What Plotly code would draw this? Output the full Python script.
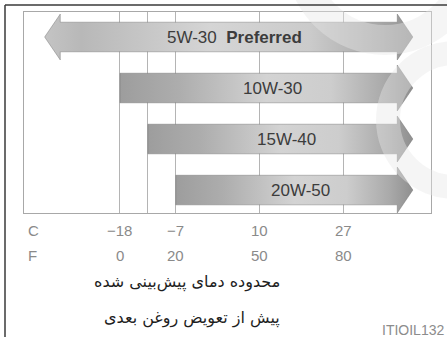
import plotly.graph_objects as go

# Oil grades and the temperature span (deg F) each one covers
grades = ["5W-30", "10W-30", "15W-40", "20W-50"]
grade_text = ["5W-30\u00a0\u00a0<b>Preferred</b>", "10W-30", "15W-40", "20W-50"]
low_f = [-27, 0, 10, 20]          # 5W-30 has no lower limit (arrow both ways)
high_f = [105, 105, 105, 105]     # open-ended towards hot climates
both_ways = [True, False, False, False]

# Temperature scale
grid_f = [0, 10, 20, 50, 80]
tick_f = [0, 20, 50, 80]
tick_c = ["\u221218", "\u22127", "10", "27"]

caption = ["محدوده دمای پیش‌بینی شده", "پیش از تعویض روغن بعدی"]
code = "ITIOIL132"

W, H = 447, 337
ML, MR, MT, MB = 24, 16, 12, 124
PW, PH = W - ML - MR, H - MT - MB

SHAFT, HEAD, HEAD_LEN = 0.29, 0.45, 5.6

def arrow_path(lo, hi, row, double):
    xs, ys = [], []
    if double:
        xs += [lo, lo + HEAD_LEN, lo + HEAD_LEN]
        ys += [row, row - HEAD, row - SHAFT]
    else:
        xs += [lo]
        ys += [row - SHAFT]
    xs += [hi - HEAD_LEN, hi - HEAD_LEN, hi, hi - HEAD_LEN, hi - HEAD_LEN]
    ys += [row - SHAFT, row - HEAD, row, row + HEAD, row + SHAFT]
    if double:
        xs += [lo + HEAD_LEN, lo + HEAD_LEN, lo]
        ys += [row + SHAFT, row + HEAD, row]
    else:
        xs += [lo, lo]
        ys += [row + SHAFT, row - SHAFT]
    return xs, ys

shade_main = [[0, "#9d9d9d"], [0.2, "#adadad"], [0.5, "#d3d3d3"], [0.72, "#cdcdcd"],
              [0.9, "#aaaaaa"], [1, "#8f8f8f"]]
shade_pref = [[0, "#c4c4c4"], [0.1, "#b8b8b8"], [0.45, "#d5d5d5"], [0.72, "#cbcbcb"],
              [0.9, "#a9a9a9"], [1, "#949494"]]

fig = go.Figure()
for i, g in enumerate(grades):
    xs, ys = arrow_path(low_f[i], high_f[i], i, both_ways[i])
    fig.add_trace(go.Scatter(
        x=xs, y=ys, mode="lines", fill="toself", name=g,
        line=dict(color="rgba(110,110,110,0.55)", width=0.8),
        fillgradient=dict(type="horizontal",
                          colorscale=shade_pref if both_ways[i] else shade_main),
        hoverinfo="skip", showlegend=False,
    ))
    fig.add_annotation(x=(low_f[i] + high_f[i]) / 2, y=i, xref="x", yref="y",
                       text=grade_text[i], showarrow=False, xshift=6,
                       font=dict(family="Liberation Sans", size=17, color="#3c3c3c"))

# Celsius / Fahrenheit tick rows under the plot
lab_font = dict(family="Liberation Sans", size=15, color="#8a8a8a")
for f, c in zip(tick_f, tick_c):
    fig.add_annotation(x=f, y=0, xref="x", yref="paper", text=c, showarrow=False,
                       yanchor="middle", yshift=-17, font=lab_font)
    fig.add_annotation(x=f, y=0, xref="x", yref="paper", text=str(f), showarrow=False,
                       yanchor="middle", yshift=-42, font=lab_font)
for unit, dy in (("C", -17), ("F", -42)):
    fig.add_annotation(x=(26 - ML) / PW, y=0, xref="paper", yref="paper", text=unit,
                       showarrow=False, xanchor="left", yanchor="middle", yshift=dy,
                       font=lab_font)

for line, dy in zip(caption, (-69, -105)):
    fig.add_annotation(x=(282 - ML) / PW, y=0, xref="paper", yref="paper", text=line,
                       showarrow=False, xanchor="right", yanchor="middle", yshift=dy,
                       font=dict(family="DejaVu Sans", size=16, color="#1e1e1e"))

fig.add_annotation(x=(446 - ML) / PW, y=0, xref="paper", yref="paper", text=code,
                   showarrow=False, xanchor="right", yanchor="middle", yshift=-117,
                   font=dict(family="Liberation Sans", size=14, color="#8c8c8c"))

def px_to_paper(x, y):
    return (x - ML) / PW, (H - MB - y) / PH

shapes = []
# faint ring marks in the top-right corner
for cx, cy, r, w in ((385, -45, 85, 30), (455, 120, 67, 24)):
    x0, y1 = px_to_paper(cx - r, cy - r)
    x1, y0 = px_to_paper(cx + r, cy + r)
    shapes.append(dict(type="circle", xref="paper", yref="paper", x0=x0, x1=x1,
                       y0=y0, y1=y1, line=dict(color="rgba(230,230,230,0.42)", width=w),
                       layer="above"))
# outer frame (top and left edges)
fx0, fy0 = px_to_paper(5, 5)
fx1, _ = px_to_paper(448, 5)
_, fyb = px_to_paper(5, 338)
shapes.append(dict(type="line", xref="paper", yref="paper", x0=fx0, x1=fx1, y0=fy0, y1=fy0,
                   line=dict(color="#3a3a3a", width=1.5), layer="above"))
shapes.append(dict(type="line", xref="paper", yref="paper", x0=fx0, x1=fx0, y0=fy0, y1=fyb,
                   line=dict(color="#3a3a3a", width=1.5), layer="above"))

fig.update_layout(
    width=W, height=H, margin=dict(l=ML, r=MR, t=MT, b=MB),
    paper_bgcolor="white", plot_bgcolor="white", shapes=shapes,
    xaxis=dict(range=[-34.4, 111.5], tickvals=grid_f, showticklabels=False, ticks="",
               showgrid=True, gridcolor="#b4b4b4", gridwidth=1, zeroline=False,
               showline=True, linecolor="#a8a8a8", linewidth=1, mirror=True,
               fixedrange=True),
    yaxis=dict(range=[3.45, -0.49], showticklabels=False, ticks="", showgrid=False,
               zeroline=False, showline=True, linecolor="#a8a8a8", linewidth=1,
               mirror=True, fixedrange=True),
)

fig.write_html("out.html", config={"displayModeBar": False})
